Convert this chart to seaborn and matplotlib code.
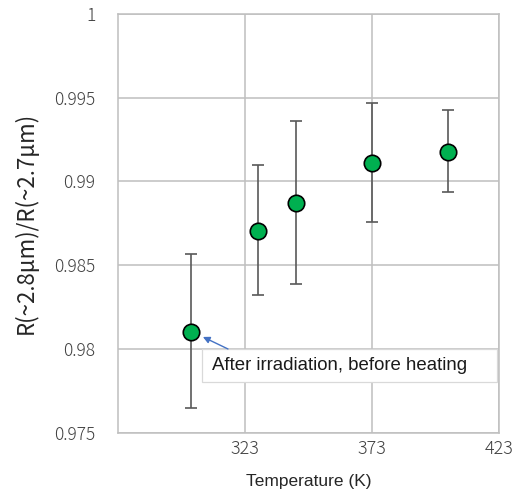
import seaborn as sns
import matplotlib.pyplot as plt
from matplotlib.patches import Rectangle
import pandas as pd

temperature = [302, 328, 343, 373, 403]
ratio = [0.98103, 0.98707, 0.98874, 0.99113, 0.99179]
err_upper = [0.98568, 0.99101, 0.99364, 0.99468, 0.99424]
err_lower = [0.97649, 0.98321, 0.98388, 0.98759, 0.98938]
x_ticks = [323, 373, 423]
y_ticks = [0.975, 0.98, 0.985, 0.99, 0.995, 1.0]
y_tick_labels = ['0.975', '0.98', '0.985', '0.99', '0.995', '1']
note = 'After irradiation, before heating'

GRID = '#BFBFBF'
TICK_FONT = ['Noto Sans CJK JP', 'DejaVu Sans']
LABEL_FONT = ['Liberation Sans', 'DejaVu Sans']

df = pd.DataFrame({'T': temperature, 'R': ratio})
yerr = [[r - lo for r, lo in zip(ratio, err_lower)],
        [hi - r for r, hi in zip(ratio, err_upper)]]

sns.set_theme(style='white')
fig = plt.figure(figsize=(5.2, 4.92), dpi=100)
ax = fig.add_axes([0.2263, 0.1205, 0.7339, 0.851])

ax.errorbar(temperature, ratio, yerr=yerr, fmt='none', ecolor='#595959',
            elinewidth=1.2, capsize=4.5, capthick=1.2, zorder=2)
sns.scatterplot(data=df, x='T', y='R', ax=ax, s=140, color='#00B050',
                edgecolor='black', linewidth=1.2, zorder=3, legend=False)

ax.set_xlim(273, 423)
ax.set_ylim(0.975, 1.0)
ax.set_xticks(x_ticks)
ax.set_yticks(y_ticks)
ax.set_yticklabels(y_tick_labels)
ax.grid(True, color=GRID, linewidth=1.1)
ax.set_axisbelow(True)
for s in ax.spines.values():
    s.set_color(GRID)
    s.set_linewidth(1.1)
ax.tick_params(length=0, labelsize=12.5, labelcolor='#404040')
ax.tick_params(axis='x', pad=5, labelsize=13)
ax.tick_params(axis='y', pad=16)
for lab in ax.get_xticklabels() + ax.get_yticklabels():
    lab.set_family(TICK_FONT)
    lab.set_fontweight('light')

ax.set_xlabel('Temperature (K)', fontsize=12.5, family=LABEL_FONT,
              color='#262626', labelpad=12)
ax.set_ylabel('R(~2.8μm)/R(~2.7μm)', fontsize=16, family=TICK_FONT,
              color='#262626', labelpad=12)

# callout box
ax.add_patch(Rectangle((0.220, 0.120), 0.773, 0.080, transform=ax.transAxes,
                       facecolor='white', edgecolor='#D9D9D9', lw=0.9, zorder=4))
ax.annotate(note, xy=(306.5, 0.98072), xytext=(0.247, 0.160),
            textcoords='axes fraction', fontsize=13.4, family=LABEL_FONT,
            color='#1a1a1a', va='center', ha='left', zorder=5)
ax.annotate('', xy=(306.5, 0.98072), xytext=(0.289, 0.200),
            textcoords='axes fraction', zorder=5,
            arrowprops=dict(arrowstyle='-|>', color='#4472C4', lw=1,
                            mutation_scale=10, shrinkA=0, shrinkB=0))

fig.savefig('out.png', dpi=100)
